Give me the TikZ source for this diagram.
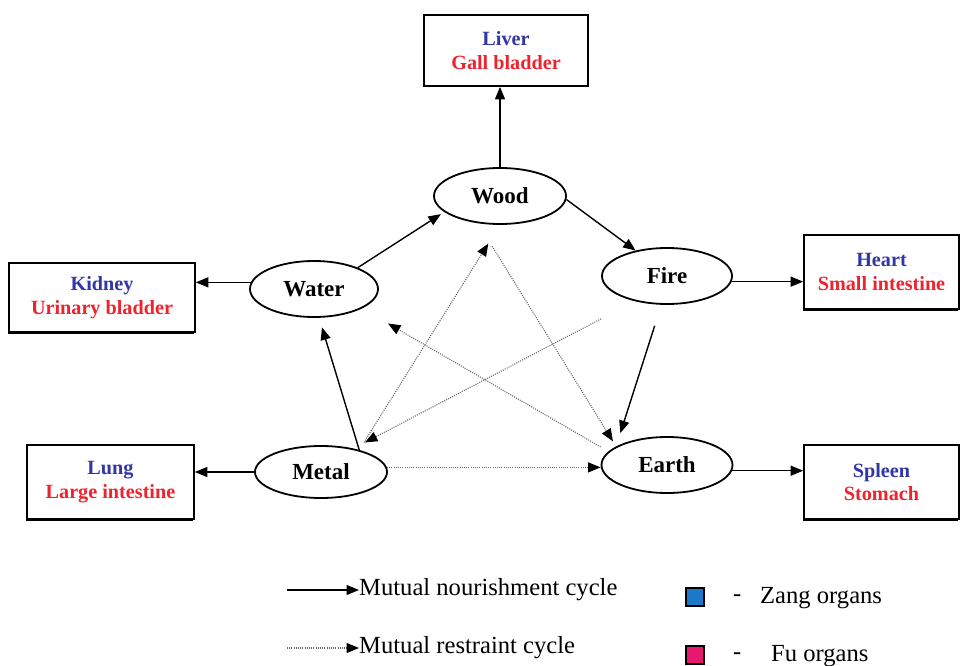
\documentclass[tikz,border=0pt]{standalone}
\usepackage{fontspec}
\setmainfont{Liberation Serif}
\usetikzlibrary{arrows.meta,shadows,shapes.geometric}
\definecolor{zang}{RGB}{50,55,165}
\definecolor{fu}{RGB}{238,35,45}
\definecolor{zangsq}{RGB}{30,120,200}
\definecolor{fusq}{RGB}{230,25,110}
\begin{document}
\begin{tikzpicture}[x=1pt,y=-1pt,
  elem/.style={draw, ellipse, line width=1.8pt, inner sep=0pt, font=\fontsize{23}{26}\selectfont\bfseries},
  organ/.style={draw, line width=1.7pt, fill=white, align=center, inner sep=0pt,
    font=\fontsize{20.2}{23.5}\selectfont\bfseries,
    general shadow={fill=black, shadow xshift=-1.2pt, shadow yshift=-1.5pt}},
  nour/.style={line width=1.4pt, -{Triangle[length=12.5pt,width=10pt]}},
  restr/.style={line width=1.1pt, draw=black!60, dash pattern=on 1pt off 1.2pt,
    -{Triangle[length=12.5pt,width=10pt,color=black]}},
  legtext/.style={anchor=west, inner sep=0pt, font=\fontsize{24.6}{28}\selectfont},
  sq/.style={draw, line width=1.5pt, minimum size=18pt, inner sep=0pt}
]
\useasboundingbox (0,0) rectangle (961,666);

% organ boxes
\node[organ, minimum width=164pt, minimum height=71pt] (liver) at (506,50.5) {\textcolor{zang}{Liver}\\\textcolor{fu}{Gall bladder}};
\node[organ, minimum width=186pt, minimum height=69pt] (kidney) at (102,297.5) {\textcolor{zang}{Kidney}\\\textcolor{fu}{Urinary bladder}};
\node[organ, minimum width=155pt, minimum height=74pt] (heart) at (881.5,272) {\textcolor{zang}{Heart}\\\textcolor{fu}{Small intestine}};
\node[organ, minimum width=167pt, minimum height=74pt] (lung) at (110.5,482) {\textcolor{zang}{Lung}\\\textcolor{fu}{Large intestine}};
\node[organ, minimum width=155pt, minimum height=74pt] (spleen) at (881.5,482) {\textcolor{zang}{Spleen}\\\textcolor{fu}{Stomach}};

% elements
\node[elem, minimum width=132pt, minimum height=56pt] (wood) at (500,196) {Wood};
\node[elem, minimum width=128pt, minimum height=56pt] (water) at (314,289) {Water};
\node[elem, minimum width=130pt, minimum height=56pt] (fire) at (667,276) {Fire};
\node[elem, minimum width=132pt, minimum height=52pt] (metal) at (321,472) {Metal};
\node[elem, minimum width=131pt, minimum height=56pt] (earth) at (667,465) {Earth};

% nourishment cycle
\draw[nour] (wood.north) -- (wood.north |- liver.south);
\draw[nour, shorten >=4pt] (water.26) -- (wood.196);
\draw[nour] (wood.-3) -- (fire.141);
\draw[nour, shorten <=22pt, shorten >=14pt] (fire.259) -- (earth.160);
\draw[nour, shorten >=10pt] (metal.30) -- (water.-80);
\draw[nour] (water.174) -- (water.174 -| kidney.east);
\draw[nour] (fire.-5) -- (fire.-5 -| heart.west);
\draw[nour] (metal.west) -- (metal.west -| lung.east);
\draw[nour] (earth.-5) -- (earth.-5 -| spleen.west);

% restraint cycle
\draw[restr] (metal.4) -- (metal.4 -| earth.west);
\draw[restr, shorten <=9pt, shorten >=22pt] (metal.30) -- (wood.-90);
\draw[restr, shorten <=27pt, shorten >=6pt] (wood.231) -- (earth.160);
\draw[restr, shorten <=9pt, shorten >=30pt] (earth.167) -- (water.-22);
\draw[restr, shorten <=38pt, shorten >=13pt] (fire.218) -- (metal.36);

% legend
\coordinate (la) at (287,590);
\node[legtext] (lta) at (359,590) {Mutual nourishment cycle};
\draw[nour, line width=1.1pt] (la) -- (lta.west);
\coordinate (lb) at (287,648);
\node[legtext] (ltb) at (359,648) {Mutual restraint cycle};
\draw[restr] (lb) -- (ltb.west);

\node[sq, fill=zangsq] (zsq) at (695,597) {};
\node[legtext] (zdash) at (733,598) {-};
\node[legtext] (ztxt) at (760,598) {Zang organs};
\node[sq, fill=fusq] (fsq) at (695,655) {};
\node[legtext] (fdash) at (733,656) {-};
\node[legtext] (ftxt) at (771,656) {Fu organs};
\end{tikzpicture}
\end{document}
